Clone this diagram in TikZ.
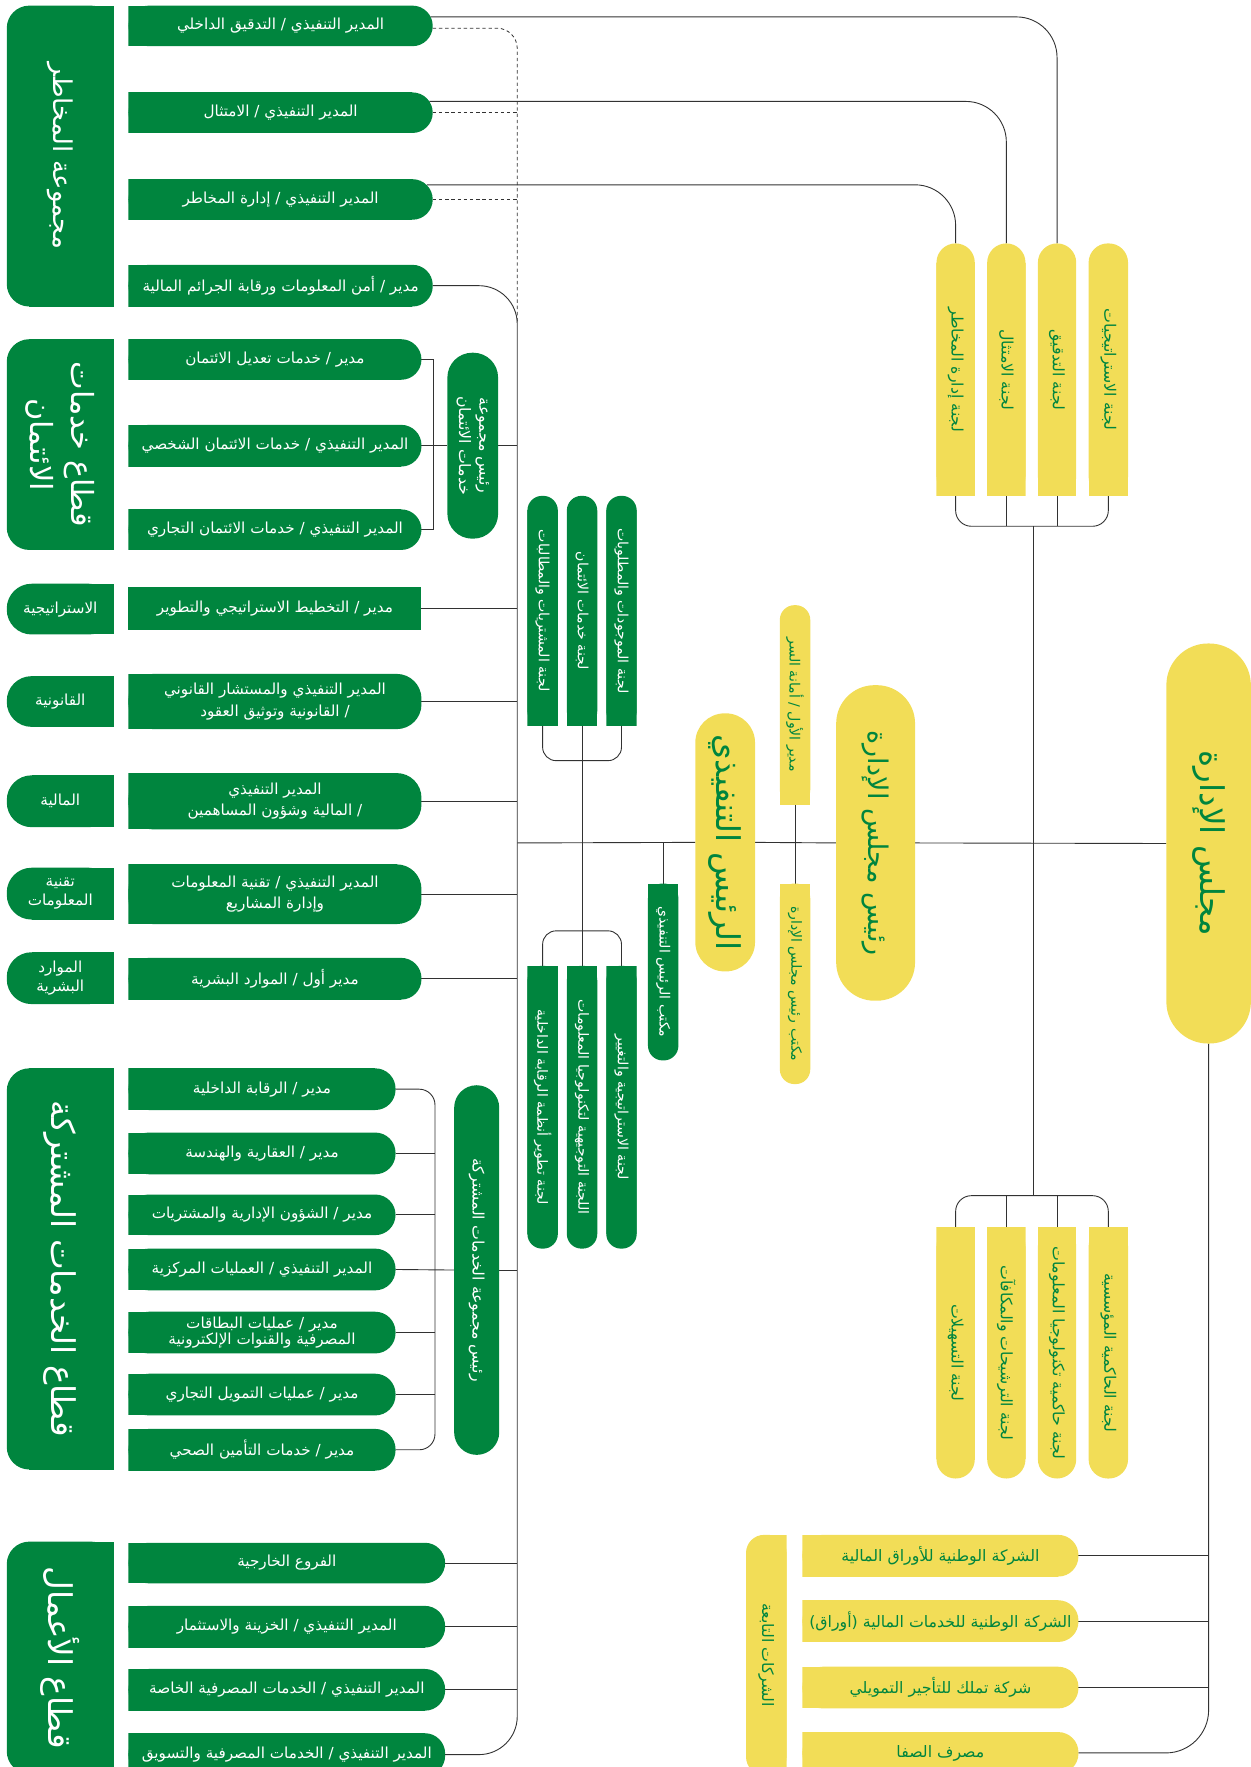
\documentclass[tikz,border=0pt]{standalone}
\usepackage{fontspec}
\newfontfamily\arabicfont[Script=Arabic]{DejaVu Sans}
\TeXXeTstate=1
\usetikzlibrary{backgrounds}
\definecolor{gr}{RGB}{0,133,62}
\definecolor{yl}{RGB}{242,221,87}
\definecolor{ln}{RGB}{50,50,50}
\newcommand{\ArT}[1]{\beginR #1\endR}
\newcommand{\FsItem}{\arabicfont\fontsize{13.5}{19}\selectfont}
\newcommand{\FsComp}{\arabicfont\fontsize{14}{19}\selectfont}
\newcommand{\FsHead}{\arabicfont\fontsize{14}{18}\selectfont}
\newcommand{\FsCom}{\arabicfont\fontsize{12.5}{15}\selectfont}
\newcommand{\FsYC}{\arabicfont\fontsize{14}{17}\selectfont}
\newcommand{\FsBig}{\arabicfont\fontsize{29}{36}\selectfont}
\newcommand{\FsBigA}{\arabicfont\fontsize{23}{30}\selectfont}
\newcommand{\FsBigB}{\arabicfont\fontsize{27}{36}\selectfont}
\newcommand{\FsCeo}{\arabicfont\fontsize{29}{34}\selectfont}
\newcommand{\FsChair}{\arabicfont\fontsize{24}{30}\selectfont}
\newcommand{\FsBoard}{\arabicfont\fontsize{29}{34}\selectfont}
\newcommand{\BoxN}[7]{\node[bx,#1,minimum width={(#5-#3)*1pt},minimum height={(#6-#4)*1pt}] (#2) at ({(#3+#5)/2},{(#4+#6)/2}) {#7};}
\newcommand{\RotT}[5]{\node[rotate=-90,inner sep=0pt,align=center,font=#3,text=#4] (#1) at (#2) {#5};}
\tikzset{
 bx/.style={inner sep=0pt,outer sep=0pt,align=center},
 ppR/.style 2 args={path picture={
   \fill[#1,rounded corners=#2] (path picture bounding box.south west) rectangle (path picture bounding box.north east);
   \fill[#1] (path picture bounding box.south west) rectangle ([xshift=-#2]path picture bounding box.north east);}},
 ppL/.style 2 args={path picture={
   \fill[#1,rounded corners=#2] (path picture bounding box.south west) rectangle (path picture bounding box.north east);
   \fill[#1] ([xshift=#2]path picture bounding box.south west) rectangle (path picture bounding box.north east);}},
 ppT/.style 2 args={path picture={
   \fill[#1,rounded corners=#2] (path picture bounding box.south west) rectangle (path picture bounding box.north east);
   \fill[#1] (path picture bounding box.south west) rectangle ([yshift=-#2]path picture bounding box.north east);}},
 ppB/.style 2 args={path picture={
   \fill[#1,rounded corners=#2] (path picture bounding box.south west) rectangle (path picture bounding box.north east);
   \fill[#1] ([yshift=#2]path picture bounding box.south west) rectangle (path picture bounding box.north east);}},
 ppA/.style 2 args={path picture={
   \fill[#1,rounded corners=#2] (path picture bounding box.south west) rectangle (path picture bounding box.north east);}},
 item/.style={ppR={gr}{18pt},text=white,font=\FsItem},
 itemtwo/.style={ppR={gr}{22pt},text=white,font=\FsItem},
 plainitem/.style={fill=gr,text=white,font=\FsItem},
 cat/.style={ppL={gr}{20pt}},
 kat/.style={ppL={gr}{22pt},text=white,font=\FsItem},
 gcT/.style={ppT={gr}{13pt}},
 gcB/.style={ppB={gr}{13pt}},
 ycT/.style={ppT={yl}{17pt}},
 ycB/.style={ppB={yl}{17pt}},
 comp/.style={ppR={yl}{18pt},text=gr,font=\FsComp},
 con/.style={draw=ln,line width=0.8pt},
 dsh/.style={draw=ln,line width=0.7pt,dash pattern=on 3pt off 2.5pt},
}
\begin{document}
\begin{tikzpicture}[x=1pt,y=-1pt]
\useasboundingbox (0,0) rectangle (1110,1568);
% ---------- left categories
\BoxN{cat}{catA}{6}{5}{101}{272}{}
\BoxN{cat}{catB}{6}{301}{101}{488}{}
\BoxN{cat}{catH}{6}{948}{101}{1304}{}
\BoxN{cat}{catI}{6}{1368}{101}{1574}{}
\RotT{tA}{catA}{\FsBigA}{white}{\ArT{مجموعة المخاطر}}
\RotT{tB}{catB}{\FsBigB}{white}{\ArT{قطاع خدمات}\\\ArT{الائتمان}}
\RotT{tH}{catH}{\FsBig}{white}{\ArT{قطاع الخدمات المشتركة}}
\RotT{tI}{catI}{\FsBig}{white}{\ArT{قطاع الأعمال}}
\BoxN{kat}{kS}{6}{518}{101}{563}{\ArT{الاستراتيجية}}
\BoxN{kat}{kL}{6}{600}{101}{645}{\ArT{القانونية}}
\BoxN{kat}{kF}{6}{688}{101}{734}{\ArT{المالية}}
\BoxN{kat,font=\arabicfont\fontsize{13.5}{17}\selectfont}{kT}{6}{770}{101}{816}{\ArT{تقنية}\\\ArT{المعلومات}}
\BoxN{kat,font=\arabicfont\fontsize{13.5}{17}\selectfont}{kH}{6}{845}{101}{891}{\ArT{الموارد}\\\ArT{البشرية}}
% ---------- risk
\BoxN{item}{r1}{114}{5}{384}{41}{\ArT{المدير التنفيذي / التدقيق الداخلي}}
\BoxN{item}{r2}{114}{82}{384}{118}{\ArT{المدير التنفيذي / الامتثال}}
\BoxN{item}{r3}{114}{159}{384}{195}{\ArT{المدير التنفيذي / إدارة المخاطر}}
\BoxN{item}{r4}{114}{235}{384}{272}{\ArT{مدير / أمن المعلومات ورقابة الجرائم المالية}}
% ---------- credit
\BoxN{item}{c1}{114}{301}{374}{337}{\ArT{مدير / خدمات تعديل الائتمان}}
\BoxN{item}{c2}{114}{377}{374}{414}{\ArT{المدير التنفيذي / خدمات الائتمان الشخصي}}
\BoxN{item}{c3}{114}{452}{374}{488}{\ArT{المدير التنفيذي / خدمات الائتمان التجاري}}
\BoxN{ppA={gr}{22pt}}{cH}{397}{313}{442}{478}{}
\RotT{tcH}{cH}{\FsHead}{white}{\ArT{رئيس مجموعة}\\\ArT{خدمات الائتمان}}
% ---------- departments
\BoxN{plainitem}{d1}{114}{521}{374}{559}{\ArT{مدير / التخطيط الاستراتيجي والتطوير}}
\BoxN{itemtwo}{d2}{114}{598}{374}{647}{\ArT{المدير التنفيذي والمستشار القانوني}\\\ArT{/ القانونية وتوثيق العقود}}
\BoxN{itemtwo}{d3}{114}{686}{374}{736}{\ArT{المدير التنفيذي}\\\ArT{/ المالية وشؤون المساهمين}}
\BoxN{itemtwo}{d4}{114}{767}{374}{820}{\ArT{المدير التنفيذي / تقنية المعلومات}\\\ArT{وإدارة المشاريع}}
\BoxN{item}{d5}{114}{850}{374}{887}{\ArT{مدير أول / الموارد البشرية}}
% ---------- shared services
\BoxN{item}{s1}{114}{948}{351}{985}{\ArT{مدير / الرقابة الداخلية}}
\BoxN{item}{s2}{114}{1005}{351}{1042}{\ArT{مدير / العقارية والهندسة}}
\BoxN{item}{s3}{114}{1060}{351}{1096}{\ArT{مدير / الشؤون الإدارية والمشتريات}}
\BoxN{item}{s4}{114}{1108}{351}{1145}{\ArT{المدير التنفيذي / العمليات المركزية}}
\BoxN{item,font=\arabicfont\fontsize{13.5}{15}\selectfont}{s5}{114}{1164}{351}{1201}{\ArT{مدير / عمليات البطاقات}\\\ArT{المصرفية والقنوات الإلكترونية}}
\BoxN{item}{s6}{114}{1219}{351}{1256}{\ArT{مدير / عمليات التمويل التجاري}}
\BoxN{item}{s7}{114}{1268}{351}{1305}{\ArT{مدير / خدمات التأمين الصحي}}
\BoxN{ppA={gr}{20pt}}{sH}{403}{963}{443}{1291}{}
\RotT{tsH}{sH}{\FsHead}{white}{\ArT{رئيس مجموعة الخدمات المشتركة}}
% ---------- business
\BoxN{item}{b1}{114}{1369}{395}{1405}{\ArT{الفروع الخارجية}}
\BoxN{item}{b2}{114}{1425}{395}{1462}{\ArT{المدير التنفيذي / الخزينة والاستثمار}}
\BoxN{item}{b3}{114}{1481}{395}{1518}{\ArT{المدير التنفيذي / الخدمات المصرفية الخاصة}}
\BoxN{item}{b4}{114}{1538}{395}{1576}{\ArT{المدير التنفيذي / الخدمات المصرفية والتسويق}}
% ---------- green committees
\BoxN{gcT}{gu1}{468}{440}{495}{644}{}
\BoxN{gcT}{gu2}{503}{440}{530}{644}{}
\BoxN{gcT}{gu3}{538}{440}{565}{644}{}
\RotT{tgu1}{gu1}{\FsCom}{white}{\ArT{لجنة المشتريات والمطالبات}}
\RotT{tgu2}{gu2}{\FsCom}{white}{\ArT{لجنة خدمات الائتمان}}
\RotT{tgu3}{gu3}{\FsCom}{white}{\ArT{لجنة الموجودات والمطلوبات}}
\BoxN{gcB}{gl1}{468}{857}{495}{1108}{}
\BoxN{gcB}{gl2}{503}{857}{530}{1108}{}
\BoxN{gcB}{gl3}{538}{857}{565}{1108}{}
\RotT{tgl1}{gl1}{\FsCom}{white}{\ArT{لجنة تطوير أنظمة الرقابة الداخلية}}
\RotT{tgl2}{gl2}{\FsCom}{white}{\ArT{اللجنة التوجيهية لتكنولوجيا المعلومات}}
\RotT{tgl3}{gl3}{\FsCom}{white}{\ArT{لجنة الاستراتيجية والتغيير}}
\BoxN{gcB}{ceoo}{575}{784}{602}{941}{}
\RotT{tceoo}{ceoo}{\FsCom}{white}{\ArT{مكتب الرئيس التنفيذي}}
% ---------- centre
\BoxN{ppA={yl}{26pt}}{ceo}{617}{633}{670}{862}{}
\RotT{tceo}{ceo}{\FsCeo}{gr}{\ArT{الرئيس التنفيذي}}
\BoxN{ppT={yl}{13pt}}{sec}{692}{537}{719}{714}{}
\RotT{tsec}{sec}{\FsCom}{gr}{\ArT{مدير الأول / أمانة السر}}
\BoxN{ppB={yl}{13pt}}{cho}{692}{784}{719}{962}{}
\RotT{tcho}{cho}{\FsCom}{gr}{\ArT{مكتب رئيس مجلس الإدارة}}
\BoxN{ppA={yl}{34pt}}{chair}{742}{608}{812}{888}{}
\RotT{tchair}{chair}{\FsChair}{gr}{\ArT{رئيس مجلس الإدارة}}
\BoxN{ppA={yl}{37pt}}{board}{1035}{571}{1110}{926}{}
\RotT{tboard}{board}{\FsBoard}{gr}{\ArT{مجلس الإدارة}}
% ---------- yellow committees
\BoxN{ycT}{yR}{831}{216}{865}{440}{}
\BoxN{ycT}{yC}{876}{216}{910}{440}{}
\BoxN{ycT}{yA}{921}{216}{955}{440}{}
\BoxN{ycT}{yS}{966}{216}{1001}{440}{}
\RotT{tyR}{yR}{\FsYC}{gr}{\ArT{لجنة إدارة المخاطر}}
\RotT{tyC}{yC}{\FsYC}{gr}{\ArT{لجنة الامتثال}}
\RotT{tyA}{yA}{\FsYC}{gr}{\ArT{لجنة التدقيق}}
\RotT{tyS}{yS}{\FsYC}{gr}{\ArT{لجنة الاستراتيجيات}}
\BoxN{ycB}{yF}{831}{1089}{865}{1312}{}
\BoxN{ycB}{yN}{876}{1089}{910}{1312}{}
\BoxN{ycB}{yI}{921}{1089}{955}{1312}{}
\BoxN{ycB}{yG}{966}{1089}{1001}{1312}{}
\RotT{tyF}{yF}{\FsYC}{gr}{\ArT{لجنة التسهيلات}}
\RotT{tyN}{yN}{\FsYC}{gr}{\ArT{لجنة الترشيحات والمكافآت}}
\RotT{tyI}{yI}{\FsYC}{gr}{\ArT{لجنة حاكمية تكنولوجيا المعلومات}}
\RotT{tyG}{yG}{\FsYC}{gr}{\ArT{لجنة الحاكمية المؤسسية}}
% ---------- companies
\BoxN{ppL={yl}{16pt}}{subs}{662}{1362}{698}{1575}{}
\RotT{tsubs}{subs}{\FsComp}{gr}{\ArT{الشركات التابعة}}
\BoxN{comp}{co1}{712}{1362}{957}{1399}{\ArT{الشركة الوطنية للأوراق المالية}}
\BoxN{comp}{co2}{712}{1420}{957}{1457}{\ArT{الشركة الوطنية للخدمات المالية (أوراق)}}
\BoxN{comp}{co3}{712}{1479}{957}{1516}{\ArT{شركة تملك للتأجير التمويلي}}
\BoxN{comp}{co4}{712}{1537}{957}{1574}{\ArT{مصرف الصفا}}
% ---------- connectors
\coordinate (spine) at (459,748);
\coordinate (dj) at (459,287);
\coordinate (cbr) at (385,395.5);
\coordinate (sbr) at (386,1126.5);
\coordinate (gbu) at (516.5,675);
\coordinate (gbl) at (516.5,826);
\coordinate (ybu) at (917,467);
\coordinate (ybl) at (917,1061);
\begin{pgfonlayer}{background}
\draw[con,rounded corners=36pt] ([xshift=-2pt,yshift=8pt]r1.east) -| (yA.north);
\draw[con,rounded corners=36pt] ([xshift=-3pt,yshift=10pt]r2.east) -| (yC.north);
\draw[con,rounded corners=36pt] ([xshift=-5pt,yshift=13pt]r3.east) -| (yR.north);
\draw[dsh,rounded corners=18pt] ([yshift=-2pt]r1.east) -| (dj);
\draw[dsh] (r2.east) -- (r2.east -| dj);
\draw[dsh] (r3.east) -- (r3.east -| dj);
\draw[con,rounded corners=34pt] (r4.east) -| (spine) |- (b4.east);
\draw[con] (c1.east) -| (cbr) |- (c3.east);
\draw[con] (c2.east) -- (cH.west);
\draw[con] (cH.east) -- (cH.east -| spine);
\foreach \n in {d1,d2,d3,d4,d5,b1,b2,b3} {\draw[con] (\n.east) -- (\n.east -| spine);}
\draw[con,rounded corners=14pt] (s1.east) -| (sbr) |- (s7.east);
\foreach \n in {s2,s3,s5,s6} {\draw[con] (\n.east) -- (\n.east -| sbr);}
\draw[con] (s4.east) -- (sH.west);
\draw[con] (sH.east) -- (sH.east -| spine);
\draw[con] (spine) -- (ceo.west);
\draw[con] (ceo.east) -- (chair.west);
\draw[con] (chair.east) -- (board.west);
\draw[con] (ceoo.north |- spine) -- (ceoo.north);
\draw[con] (sec.south) -- (cho.north);
\draw[con,rounded corners=12pt] (gu1.south) |- (gbu) -| (gu3.south);
\draw[con] (gu2.south) -- (gl2.north);
\draw[con,rounded corners=12pt] (gl1.north) |- (gbl) -| (gl3.north);
\draw[con,rounded corners=14pt] (yR.south) |- (ybu) -| (yS.south);
\draw[con] (yC.south) -- (yC.south |- ybu);
\draw[con] (yA.south) -- (yA.south |- ybu);
\draw[con,rounded corners=14pt] (yF.north) |- (ybl) -| (yG.north);
\draw[con] (yN.north) -- (yN.north |- ybl);
\draw[con] (yI.north) -- (yI.north |- ybl);
\draw[con] (ybu) -- (ybl);
\draw[con,rounded corners=38pt] (board.south) |- (co4.east);
\foreach \n in {co1,co2,co3} {\draw[con] (\n.east) -- (\n.east -| board.south);}
\end{pgfonlayer}
\end{tikzpicture}
\end{document}
